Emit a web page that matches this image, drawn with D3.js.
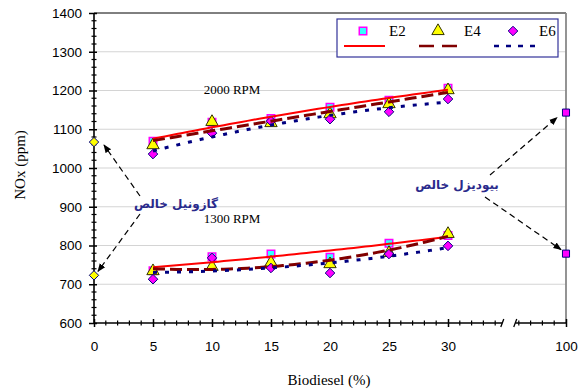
<!DOCTYPE html>
<meta charset="utf-8">
<style>
  body { margin: 0; background: #fff; }
  .serif { font-family: "Times New Roman", "Liberation Serif", serif; }
  .sans { font-family: Arial, "Liberation Sans", sans-serif; }
</style>
<script src="https://d3js.org/d3.v7.min.js"></script>
<svg id="chart" width="584" height="392"></svg>
<script>
// ---- data ----
const biodieselPct = [5, 10, 15, 20, 25, 30];
const e2_2000 = [1069, 1118, 1128, 1157, 1175, 1206];
const e4_2000 = [1059, 1119, 1116, 1139, 1165, 1201];
const e6_2000 = [1036, 1090, 1121, 1126, 1145, 1178];
const e2_1300 = [735, 771, 778, 770, 806, 826];
const e4_1300 = [734, 745, 756, 752, 781, 830];
const e6_1300 = [713, 768, 742, 729, 778, 799];
const pureGasoil = [1067, 723];      // at 0 %
const pureBiodiesel = [1143, 779];   // at 100 %
const yTicks = [600, 700, 800, 900, 1000, 1100, 1200, 1300, 1400];
const xTicks = [0, 5, 10, 15, 20, 25, 30, 100];
const seriesNames = ["E2", "E4", "E6"];
const speedLabels = ["2000 RPM", "1300 RPM"];
const gasoilLabel = "گازونیل خالص";
const biodieselLabel = "بیودیزل خالص";

const svg = d3.select("#chart");

// broken x axis: 0..35 then 95..100
const x = d3.scaleLinear().domain([0, 35, 95, 100]).range([94, 507, 507, 566]);
const y = d3.scaleLinear().domain([600, 1400]).range([323, 13]);

// gridlines
svg.append("g").selectAll("line")
  .data(yTicks.filter(d => d > 600 && d < 1400))
  .join("line")
  .attr("x1", x(0)).attr("x2", x(100))
  .attr("y1", d => y(d)).attr("y2", d => y(d))
  .attr("stroke", "#d4d4d4").attr("stroke-width", 1.2);

// frame top / right
svg.append("line").attr("x1", x(0)).attr("x2", x(100)).attr("y1", y(1400)).attr("y2", y(1400))
  .attr("stroke", "#000").attr("stroke-width", 1);
svg.append("line").attr("x1", x(100)).attr("x2", x(100)).attr("y1", y(1400)).attr("y2", y(600))
  .attr("stroke", "#888").attr("stroke-width", 1.8);

// y axis
const yAxis = svg.append("g").attr("transform", `translate(${x(0)},0)`)
  .call(d3.axisLeft(y).tickValues(yTicks).tickFormat(d3.format("d")).tickSize(5).tickPadding(7));
yAxis.select(".domain").remove();
yAxis.selectAll(".tick line").attr("x1", 3).attr("stroke-width", 1.5);
yAxis.selectAll(".tick text").attr("class", "sans").style("font-size", "13.5px").attr("fill", "#000");
yAxis.append("line").attr("y1", y(600)).attr("y2", y(1400)).attr("stroke", "#000").attr("stroke-width", 1.6);
yAxis.selectAll(".minor").data(d3.range(620, 1400, 20).filter(d => d % 100 !== 0))
  .join("line").attr("class", "minor")
  .attr("x1", -2.5).attr("x2", 2.5).attr("y1", d => y(d)).attr("y2", d => y(d))
  .attr("stroke", "#000").attr("stroke-width", 1.2);

// x axis
const xAxis = svg.append("g").attr("transform", `translate(0,${y(600)})`)
  .call(d3.axisBottom(x).tickValues(xTicks).tickSize(4).tickPadding(14));
xAxis.select(".domain").remove();
xAxis.selectAll(".tick line").attr("y1", -4).attr("stroke-width", 1.5);
xAxis.selectAll(".tick text").attr("class", "sans").style("font-size", "13.5px").attr("fill", "#000");
[[0, 34.6], [95.7, 100]].forEach(seg => {
  xAxis.append("line").attr("x1", x(seg[0])).attr("x2", x(seg[1]))
    .attr("stroke", "#000").attr("stroke-width", 1.6);
});
[34.6, 95.7].forEach(v => {
  xAxis.append("line").attr("x1", x(v) - 1.5).attr("x2", x(v) + 1.5).attr("y1", 4).attr("y2", -4)
    .attr("stroke", "#000").attr("stroke-width", 1.3);
});
const minorX = d3.range(1, 35).concat([96, 97, 98, 99]).filter(d => d % 5 !== 0);
xAxis.selectAll(".minor").data(minorX).join("line").attr("class", "minor")
  .attr("x1", d => x(d)).attr("x2", d => x(d)).attr("y1", -2.5).attr("y2", 2.5)
  .attr("stroke", "#000").attr("stroke-width", 1.2);

// axis titles
svg.append("text").attr("class", "serif").attr("x", 329).attr("y", 385)
  .attr("text-anchor", "middle").style("font-size", "15px").text("Biodiesel (%)");
svg.append("text").attr("class", "serif")
  .attr("transform", "translate(25,165) rotate(-90)")
  .attr("text-anchor", "middle").style("font-size", "15px").text("NOx (ppm)");

// marker shapes
const style = {
  E2: { shape: d3.symbolSquare, size: 56, fill: "#33ffff", stroke: "#ff00ff", sw: 1.5, line: "#ff0000", dash: null, lw: 2 },
  E4: { shape: d3.symbolTriangle, size: 66, fill: "#ffff00", stroke: "#333300", sw: 1, line: "#800000", dash: "12,5", lw: 3 },
  E6: { shape: d3.symbolDiamond2, size: 58, fill: "#ff00ff", stroke: "#000080", sw: 1, line: "#000080", dash: "4,8", lw: 3 }
};

const groups = [
  { name: "E2", values: e2_2000 }, { name: "E2", values: e2_1300 },
  { name: "E4", values: e4_2000 }, { name: "E4", values: e4_1300 },
  { name: "E6", values: e6_2000 }, { name: "E6", values: e6_1300 }
];

// points
groups.forEach(g => {
  const s = style[g.name];
  svg.append("g").selectAll("path")
    .data(g.values.map((v, i) => [biodieselPct[i], v]))
    .join("path")
    .attr("transform", d => `translate(${x(d[0])},${y(d[1])})`)
    .attr("d", d3.symbol(s.shape, s.size))
    .attr("fill", s.fill).attr("stroke", s.stroke).attr("stroke-width", s.sw);
});

// 2nd order polynomial trend lines (least squares)
function quadFit(xs, ys) {
  const n = xs.length;
  let sx = 0, sx2 = 0, sx3 = 0, sx4 = 0, sy = 0, sxy = 0, sx2y = 0;
  xs.forEach((xv, i) => {
    const yv = ys[i];
    sx += xv; sx2 += xv * xv; sx3 += xv ** 3; sx4 += xv ** 4;
    sy += yv; sxy += xv * yv; sx2y += xv * xv * yv;
  });
  const M = [[n, sx, sx2, sy], [sx, sx2, sx3, sxy], [sx2, sx3, sx4, sx2y]];
  for (let c = 0; c < 3; c++) {
    for (let r = c + 1; r < 3; r++) {
      const f = M[r][c] / M[c][c];
      for (let k = c; k < 4; k++) M[r][k] -= f * M[c][k];
    }
  }
  const co = [0, 0, 0];
  for (let r = 2; r >= 0; r--) {
    let s = M[r][3];
    for (let k = r + 1; k < 3; k++) s -= M[r][k] * co[k];
    co[r] = s / M[r][r];
  }
  return t => co[0] + co[1] * t + co[2] * t * t;
}

const line = d3.line().x(d => x(d[0])).y(d => y(d[1]));
const samples = d3.range(5, 30.001, 0.5);
groups.forEach(g => {
  const s = style[g.name];
  const f = quadFit(biodieselPct, g.values);
  svg.append("path")
    .attr("d", line(samples.map(t => [t, f(t)])))
    .attr("fill", "none").attr("stroke", s.line).attr("stroke-width", s.lw)
    .attr("stroke-dasharray", s.dash);
});

// pure fuels
svg.append("g").selectAll("path").data(pureGasoil).join("path")
  .attr("transform", d => `translate(${x(0)},${y(d)})`)
  .attr("d", d3.symbol(d3.symbolDiamond2, 56))
  .attr("fill", "#ffff00").attr("stroke", "#000080").attr("stroke-width", 1);
svg.append("g").selectAll("path").data(pureBiodiesel).join("path")
  .attr("transform", d => `translate(${x(100)},${y(d)})`)
  .attr("d", d3.symbol(d3.symbolSquare, 50))
  .attr("fill", "#ff00ff").attr("stroke", "#000080").attr("stroke-width", 1);

// speed labels
[[1190, speedLabels[0]], [858, speedLabels[1]]].forEach(([v, t]) => {
  svg.append("text").attr("class", "serif").attr("x", 232).attr("y", y(v))
    .attr("text-anchor", "middle").style("font-size", "13px").text(t);
});

// annotations
const defs = svg.append("defs");
defs.append("marker").attr("id", "arrow").attr("viewBox", "0 0 10 10")
  .attr("refX", 9).attr("refY", 5).attr("markerWidth", 7).attr("markerHeight", 7)
  .attr("orient", "auto-start-reverse")
  .append("path").attr("d", "M0,1 L10,5 L0,9 z").attr("fill", "#000");

function arrow(x1, y1, x2, y2) {
  svg.append("line").attr("x1", x1).attr("y1", y1).attr("x2", x2).attr("y2", y2)
    .attr("stroke", "#000").attr("stroke-width", 1.2).attr("stroke-dasharray", "6,4")
    .attr("marker-end", "url(#arrow)");
}

const gx = 176, gy = 208;
svg.append("text").attr("x", gx).attr("y", gy).attr("text-anchor", "middle")
  .attr("direction", "rtl")
  .style("font-family", "'DejaVu Sans', sans-serif").style("font-weight", "bold")
  .style("font-size", "12px").attr("fill", "#2a2a8c").text(gasoilLabel);
arrow(gx - 36, gy - 12, x(0) + 10, y(pureGasoil[0]) + 3);
arrow(gx - 36, gy + 6, x(0) + 4, y(pureGasoil[1]) - 4);

const bx = 457, by = 189;
svg.append("text").attr("x", bx).attr("y", by).attr("text-anchor", "middle")
  .attr("direction", "rtl")
  .style("font-family", "'DejaVu Sans', sans-serif").style("font-weight", "bold")
  .style("font-size", "12px").attr("fill", "#2a2a8c").text(biodieselLabel);
arrow(bx + 33, by - 14, x(100) - 9, y(pureBiodiesel[0]) + 5);
arrow(bx + 28, by + 8, x(100) - 5, y(pureBiodiesel[1]) - 4);

// legend
const lg = svg.append("g").attr("transform", "translate(337,19)");
lg.append("rect").attr("width", 221).attr("height", 38)
  .attr("fill", "#fff").attr("stroke", "#333399").attr("stroke-width", 1.2);
seriesNames.forEach((name, i) => {
  const s = style[name];
  const ox = i * 75;
  lg.append("path").attr("transform", `translate(${ox + 26},12)`)
    .attr("d", d3.symbol(s.shape, s.size))
    .attr("fill", s.fill).attr("stroke", s.stroke).attr("stroke-width", s.sw);
  lg.append("text").attr("class", "serif").attr("x", ox + 52).attr("y", 17)
    .style("font-size", "15px").text(name);
  lg.append("line").attr("x1", ox + 7).attr("x2", ox + 48).attr("y1", 27).attr("y2", 27)
    .attr("stroke", s.line).attr("stroke-width", s.lw === 2 ? 2 : 2.5)
    .attr("stroke-dasharray", name === "E4" ? "15,8" : name === "E6" ? "5,7" : null);
});
</script>
